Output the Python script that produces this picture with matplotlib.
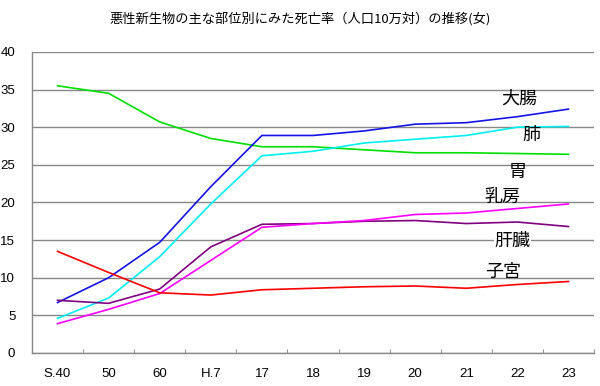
import matplotlib
matplotlib.use("Agg")
from matplotlib import pyplot as plt

plt.rcParams['font.family'] = ['Liberation Sans', 'Noto Sans CJK JP', 'DejaVu Sans']

years = ['S.40', '50', '60', 'H.7', '17', '18', '19', '20', '21', '22', '23']
daicho = [6.7, 10.0, 14.7, 22.1, 28.9, 28.9, 29.5, 30.4, 30.6, 31.4, 32.4]
hai = [4.6, 7.3, 12.8, 19.8, 26.2, 26.8, 27.9, 28.4, 28.9, 30.0, 30.1]
i_ = [35.5, 34.5, 30.7, 28.5, 27.4, 27.4, 27.0, 26.6, 26.6, 26.5, 26.4]
nyubo = [3.9, 5.8, 7.9, 12.3, 16.7, 17.2, 17.6, 18.4, 18.6, 19.2, 19.8]
kanzo = [7.0, 6.6, 8.5, 14.1, 17.1, 17.2, 17.5, 17.6, 17.2, 17.4, 16.8]
shikyu = [13.5, 10.7, 8.0, 7.7, 8.4, 8.6, 8.8, 8.9, 8.6, 9.1, 9.5]

fig = plt.figure(figsize=(6, 3.86), dpi=100)
ax = fig.add_axes([0.0533, 0.0855, 0.9367, 0.78])
x = list(range(len(years)))
ax.plot(x, i_, color='#00e000', lw=1.2)
ax.plot(x, hai, color='#00f0f0', lw=1.2)
ax.plot(x, daicho, color='#1414e6', lw=1.2)
ax.plot(x, kanzo, color='#800080', lw=1.2)
ax.plot(x, nyubo, color='#ff00ff', lw=1.2)
ax.plot(x, shikyu, color='#ff0000', lw=1.2)

ax.set_xlim(-0.5, len(years) - 0.5)
ax.set_ylim(0, 40)
ax.set_yticks(range(0, 41, 5))
ax.set_xticks(x)
ax.set_xticklabels(years)
ax.set_xticks([k - 0.5 for k in range(1, len(years) + 1)], minor=True)
ax.tick_params(axis='x', which='major', length=0, pad=11, labelsize=9.5)
ax.tick_params(axis='x', which='minor', direction='in', length=3, color='#808080')
ax.tick_params(axis='y', length=0, pad=12, labelsize=9.5)
ax.grid(axis='y', color='#888888', lw=1)
ax.set_axisbelow(True)
for s in ['top', 'right']:
    ax.spines[s].set_visible(False)
for s in ['left', 'bottom']:
    ax.spines[s].set_color('#888888')
    ax.spines[s].set_linewidth(1)

lab = dict(fontsize=13, family=['Noto Sans CJK JP'], ha='center', va='center')
ax.text(9.03, 33.75, '大腸', **lab)
ax.text(9.27, 29.0, '肺', **lab)
ax.text(9.01, 24.05, '胃', **lab)
ax.text(8.7, 20.7, '乳房', **lab)
ax.text(8.91, 14.9, '肝臓', bbox=dict(facecolor='white', edgecolor='none', pad=0.5), **lab)
ax.text(8.72, 10.8, '子宮', **lab)

fig.text(0.5, 0.951, '悪性新生物の主な部位別にみた死亡率（人口10万対）の推移(女)',
         ha='center', va='center', fontsize=9.5, family=['Noto Sans CJK JP'])

fig.savefig('out.png')
